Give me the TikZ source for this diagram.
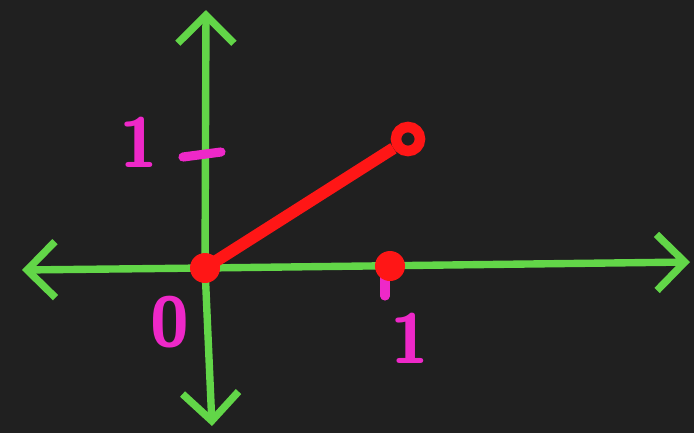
\documentclass[tikz,border=0pt]{standalone}
\usepackage{tikz}
\usetikzlibrary{arrows.meta}
\definecolor{boardbg}{RGB}{32,32,32}
\definecolor{axisgreen}{RGB}{98,214,72}
\definecolor{tickpink}{RGB}{238,40,200}
\definecolor{graphred}{RGB}{255,22,22}

\begin{document}
\begin{tikzpicture}[x=0.01cm,y=-0.01cm,
    axis/.style={axisgreen,line width=2.1pt,line cap=round,
      -{Straight Barb[length=2.8mm,width=5.6mm,line width=2.1pt]}},
    tickmark/.style={tickpink,line width=2.6pt,line cap=round},
    ticklabel/.style={tickpink,font=\sffamily\bfseries\fontsize{20}{20}\selectfont},
    every node/.style={inner sep=0pt}]
        \fill[boardbg] (0,0) rectangle (694,433);
        \useasboundingbox (0,0) rectangle (694,433);
        \coordinate (o) at (205,268);
        \coordinate (xl) at (22,270);
        \coordinate (xr) at (690,262);
        \coordinate (yt) at (206,10);
        \coordinate (yb) at (212,426);
        % axes
        \draw[axis] (o) -- (xl);
        \draw[axis] (o) -- (xr);
        \draw[axis] (o) -- (yt);
        \draw[axis] (o) -- (yb);
        % ticks and labels
        \coordinate (ty1) at (183,157);
        \coordinate (ty2) at (221,152);
        \coordinate (tx1) at (385,258);
        \coordinate (tx2) at (385,296);
        \draw[tickmark] (ty1) -- (ty2);
        \draw[tickmark] (tx1) -- (tx2);
        \node[ticklabel] (one y) at (139,142) {1};
        \node[ticklabel] (one x) at (410,338) {1};
        \node[ticklabel] (zero) at (170,322) {0};
        % graph piece
        \node[circle,draw=graphred,line width=3pt,minimum size=0.24cm] (end) at (408,139) {};
        \draw[graphred,line width=3.4pt] (o) -- (end);
        \fill[graphred] (o) circle (15);
        \node[circle,fill=graphred,minimum size=0.3cm] (dot) at (390,266) {};
      \end{tikzpicture}
\end{document}
